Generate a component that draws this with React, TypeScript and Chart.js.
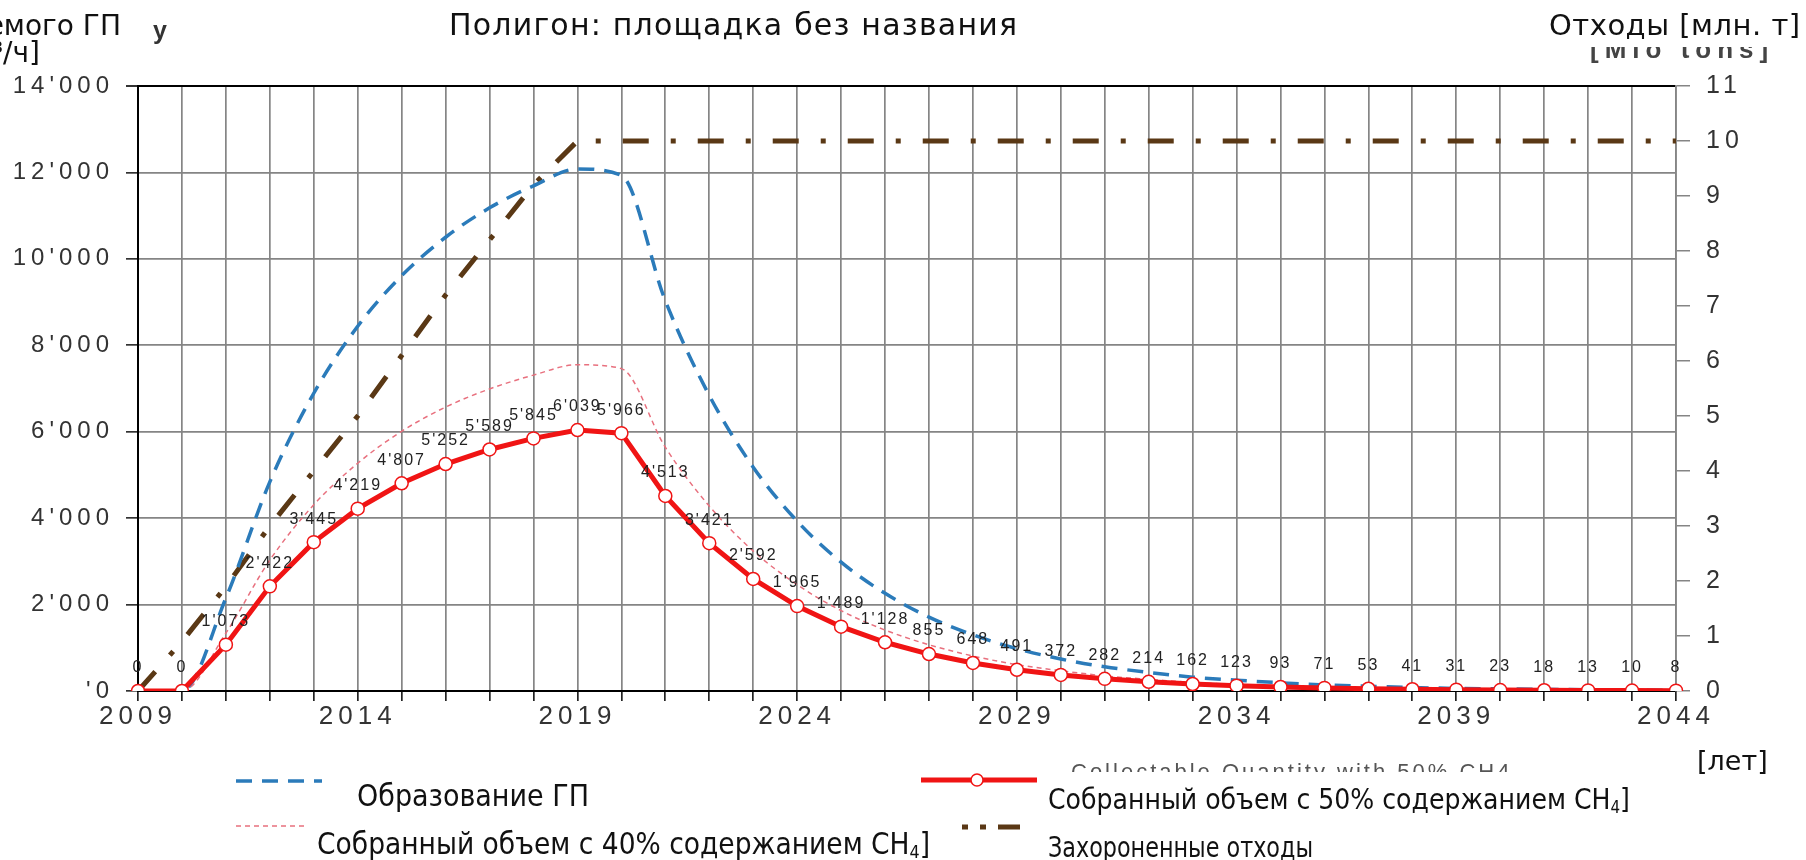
import React, { useEffect, useRef } from "react";
import { Chart, registerables } from "chart.js";

Chart.register(...registerables);

const years = [2009, 2010, 2011, 2012, 2013, 2014, 2015, 2016, 2017, 2018, 2019, 2020, 2021, 2022, 2023, 2024, 2025, 2026, 2027, 2028, 2029, 2030, 2031, 2032, 2033, 2034, 2035, 2036, 2037, 2038, 2039, 2040, 2041, 2042, 2043, 2044];

const collected50 = [0, 0, 1073, 2422, 3445, 4219, 4807, 5252, 5589, 5845, 6039, 5966, 4513, 3421, 2592, 1965, 1489, 1128, 855, 648, 491, 372, 282, 214, 162, 123, 93, 71, 53, 41, 31, 23, 18, 13, 10, 8];

const collected40 = [0, 0, 1340, 3030, 4310, 5270, 6010, 6570, 6990, 7310, 7550, 7460, 5640, 4280, 3240, 2460, 1860, 1410, 1070, 810, 610, 470, 350, 270, 200, 150, 120, 90, 70, 50, 40, 30, 20, 16, 12, 10];

const generation = [0, 0, 2150, 4840, 6890, 8440, 9610, 10500, 11180, 11690, 12080, 11930, 9030, 6840, 5180, 3930, 2980, 2260, 1710, 1300, 980, 740, 560, 430, 320, 250, 190, 140, 110, 80, 60, 50, 40, 30, 20, 16];

const wasteMt = [0, 0.9, 1.9, 3.0, 4.0, 5.0, 6.1, 7.2, 8.2, 9.2, 10, 10, 10, 10, 10, 10, 10, 10, 10, 10, 10, 10, 10, 10, 10, 10, 10, 10, 10, 10, 10, 10, 10, 10, 10, 10];

const xTickLabels = ["2009", "2014", "2019", "2024", "2029", "2034", "2039", "2044"];
const yLeftTickLabels = ["'0", "2'000", "4'000", "6'000", "8'000", "10'000", "12'000", "14'000"];
const yRightTickLabels = ["0", "1", "2", "3", "4", "5", "6", "7", "8", "9", "10", "11"];

const BLUE = "#2b7bba";
const PINK = "#e8707e";
const RED = "#f01414";
const BROWN = "#5a3815";
const GRID = "#858585";

function fmt(v: number): string {
  if (v >= 1000) {
    const th = Math.floor(v / 1000);
    const rest = String(v % 1000).padStart(3, "0");
    return th + "'" + rest;
  }
  return String(v);
}

const spacingPlugin = {
  id: "spacing",
  beforeDraw(chart: any) {
    chart.ctx.letterSpacing = "5px";
  },
};

const labelPlugin = {
  id: "pointLabels",
  afterDatasetsDraw(chart: any) {
    const ctx = chart.ctx;
    const meta = chart.getDatasetMeta(0);
    ctx.save();
    ctx.letterSpacing = "2px";
    ctx.font = "16px 'Liberation Sans', Arial, sans-serif";
    ctx.fillStyle = "#222";
    ctx.textAlign = "center";
    ctx.textBaseline = "middle";
    meta.data.forEach((pt: any, i: number) => {
      ctx.fillText(fmt(collected50[i]), pt.x, pt.y - 23);
    });
    ctx.restore();
  },
};

const legendPlugin = {
  id: "customLegend",
  afterDraw(chart: any) {
    const ctx = chart.ctx;
    ctx.save();
    ctx.letterSpacing = "0px";
    ctx.strokeStyle = BLUE;
    ctx.lineWidth = 3.5;
    ctx.setLineDash([16, 10]);
    ctx.beginPath();
    ctx.moveTo(236, 781);
    ctx.lineTo(322, 781);
    ctx.stroke();
    ctx.strokeStyle = PINK;
    ctx.lineWidth = 1.5;
    ctx.setLineDash([5, 4]);
    ctx.beginPath();
    ctx.moveTo(236, 826);
    ctx.lineTo(305, 826);
    ctx.stroke();
    ctx.setLineDash([]);
    ctx.strokeStyle = RED;
    ctx.lineWidth = 5;
    ctx.beginPath();
    ctx.moveTo(921, 780);
    ctx.lineTo(1037, 780);
    ctx.stroke();
    ctx.beginPath();
    ctx.arc(977, 780, 6, 0, Math.PI * 2);
    ctx.fillStyle = "#fff";
    ctx.fill();
    ctx.lineWidth = 1.5;
    ctx.stroke();
    ctx.strokeStyle = BROWN;
    ctx.lineWidth = 5;
    ctx.setLineDash([6, 12, 6, 12, 22, 12]);
    ctx.beginPath();
    ctx.moveTo(962, 827);
    ctx.lineTo(1031, 827);
    ctx.stroke();
    ctx.restore();
  },
};

const tickFont = { family: "'Liberation Sans', Arial, sans-serif", size: 26 };

function ChartCanvas() {
  const ref = useRef<HTMLCanvasElement | null>(null);
  useEffect(() => {
    if (!ref.current) return;
    const chart = new Chart(ref.current, {
      type: "line",
      data: {
        labels: years.map(String),
        datasets: [
          {
            label: "Collected 50%",
            data: collected50,
            yAxisID: "y",
            borderColor: RED,
            borderWidth: 5,
            pointRadius: 6.5,
            pointBackgroundColor: "#fff",
            pointBorderColor: RED,
            pointBorderWidth: 1.5,
            tension: 0,
            order: 0,
          },
          {
            label: "Collected 40%",
            data: collected40,
            yAxisID: "y",
            borderColor: PINK,
            borderWidth: 1.5,
            borderDash: [5, 4],
            pointRadius: 0,
            cubicInterpolationMode: "monotone",
            order: 1,
          },
          {
            label: "Generation",
            data: generation,
            yAxisID: "y",
            borderColor: BLUE,
            borderWidth: 3.5,
            borderDash: [16, 10],
            pointRadius: 0,
            cubicInterpolationMode: "monotone",
            order: 2,
          },
          {
            label: "Waste",
            data: wasteMt,
            yAxisID: "y2",
            borderColor: BROWN,
            borderWidth: 5,
            borderDash: [26, 22, 5, 22],
            pointRadius: 0,
            tension: 0,
            order: 3,
          },
        ],
      },
      options: {
        animation: false,
        responsive: true,
        maintainAspectRatio: false,
        layout: { padding: { top: 86, left: 0, right: 0, bottom: 0 } },
        plugins: { legend: { display: false }, tooltip: { enabled: false }, title: { display: false } },
        scales: {
          x: {
            type: "category",
            offset: false,
            grid: { color: GRID, lineWidth: 1.7, tickColor: "#222", tickLength: 10, drawTicks: true },
            border: { color: "#000", width: 2 },
            ticks: {
              autoSkip: false,
              maxRotation: 0,
              padding: 0,
              color: "#333",
              font: tickFont,
              callback: (_v: any, i: number) => {
                const s = String(years[i]);
                return xTickLabels.includes(s) ? s : "";
              },
            },
            afterFit: (s: any) => {
              s.height = 169;
            },
          },
          y: {
            position: "left",
            min: 0,
            max: 14000,
            grid: {
              color: (c: any) => (c.tick && c.tick.value === 14000 ? "#000" : GRID),
              lineWidth: (c: any) => (c.tick && c.tick.value === 14000 ? 2 : 1.7),
              tickColor: "#333",
              tickLength: 12,
            },
            border: { color: "#000", width: 2 },
            ticks: {
              stepSize: 2000,
              padding: 12,
              color: "#333",
              font: { family: "'Liberation Sans', Arial, sans-serif", size: 24 },
              callback: (v: any) => yLeftTickLabels[Math.round(Number(v) / 2000)],
            },
            afterFit: (s: any) => {
              s.width = 138;
            },
          },
          y2: {
            position: "right",
            min: 0,
            max: 11,
            grid: { drawOnChartArea: false, tickColor: GRID, tickLength: 14, lineWidth: 1.5 },
            border: { color: GRID, width: 1.7 },
            ticks: {
              stepSize: 1,
              padding: 16,
              color: "#333",
              font: { family: "'Liberation Sans', Arial, sans-serif", size: 25 },
              callback: (v: any) => yRightTickLabels[Math.round(Number(v))],
            },
            afterFit: (s: any) => {
              s.width = 130;
            },
          },
        },
      } as any,
      plugins: [spacingPlugin, labelPlugin, legendPlugin],
    });
    return () => chart.destroy();
  }, []);
  return <canvas ref={ref} style={{ position: "absolute", left: 0, top: 0, width: "1806px", height: "860px" }} />;
}

const ru: React.CSSProperties = {
  position: "absolute",
  fontFamily: "'DejaVu Sans', Verdana, sans-serif",
  lineHeight: 1,
  whiteSpace: "nowrap",
  color: "#111",
};

const ruCond: React.CSSProperties = {
  ...ru,
  fontFamily: "'DejaVu Sans Condensed', 'DejaVu Sans', sans-serif",
  fontStretch: "condensed",
};

const sub: React.CSSProperties = { fontSize: "0.6em", verticalAlign: "-0.25em" };

export default function App() {
  return (
    <div style={{ position: "fixed", left: 0, top: 0, width: "1806px", height: "860px", overflow: "hidden", background: "#fff" }}>
      <div style={{ position: "absolute", left: 0, top: 0, width: "1806px", height: "860px" }}>
        <ChartCanvas />
      </div>
      {/* English remnants of the original chart */}
      <div style={{ position: "absolute", left: 153, top: 18, fontFamily: "'Liberation Sans', Arial", fontWeight: 700, fontSize: 25, color: "#333", lineHeight: 1 }}>y</div>
      <div style={{ position: "absolute", left: 1590, top: 36, fontFamily: "'Liberation Sans', Arial", fontWeight: 700, fontSize: 26, color: "#444", lineHeight: 1, letterSpacing: "6px", whiteSpace: "nowrap" }}>[Mio tons]</div>
      <div style={{ position: "absolute", left: 1071, top: 761, fontFamily: "'Liberation Sans', Arial", fontSize: 22, color: "#555", lineHeight: 1, letterSpacing: "3px", whiteSpace: "nowrap" }}>Collectable Quantity with 50% CH4</div>

      {/* Russian labels */}
      <div style={{ ...ru, right: 1685, top: 12, fontSize: 28 }}>Объем улавливаемого ГП</div>
      <div style={{ ...ru, right: 1766, top: 39, fontSize: 28 }}>[м³/ч]</div>
      <div style={{ ...ru, left: 449, top: 10, fontSize: 30, letterSpacing: "1.2px" }}>Полигон: площадка без названия</div>
      <div style={{ ...ru, left: 1549, top: 11, fontSize: 29, letterSpacing: "0.5px", background: "#fff", paddingBottom: 7 }}>Отходы [млн. т]</div>
      <div style={{ ...ru, left: 1697, top: 747, fontSize: 27 }}>[лет]</div>

      <div style={{ ...ruCond, left: 357, top: 781, fontSize: 30 }}>Образование ГП</div>
      <div style={{ ...ruCond, left: 317, top: 830, fontSize: 29.5 }}>
        Собранный объем с 40% содержанием CH<span style={sub}>4</span>]
      </div>
      <div style={{ ...ruCond, left: 1048, top: 772, paddingTop: 14, fontSize: 28, background: "#fff" }}>
        Собранный объем с 50% содержанием CH<span style={sub}>4</span>]
      </div>
      <div style={{ ...ruCond, left: 1048, top: 834, fontSize: 28.5, transform: "scaleX(0.87)", transformOrigin: "left top" }}>Захороненные отходы</div>
    </div>
  );
}
